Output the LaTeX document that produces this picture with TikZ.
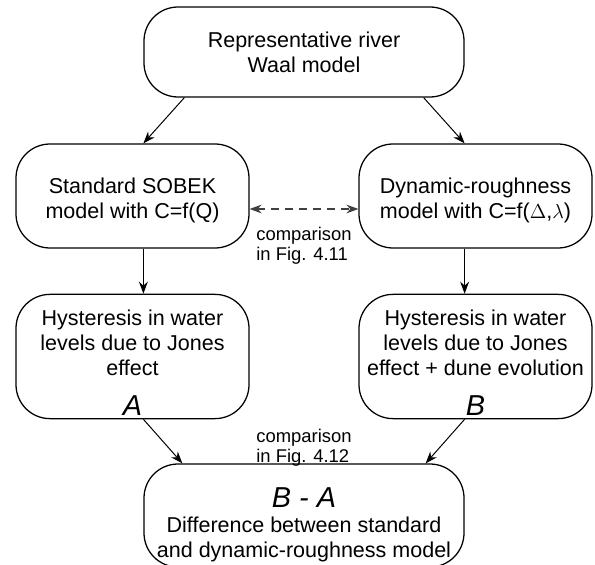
\documentclass[tikz,border=0pt]{standalone}
\usepackage{fontspec}
\setmainfont{Liberation Sans}
\usetikzlibrary{arrows.meta, positioning}
\newcommand{\letterfont}{\fontsize{20.5}{20}\selectfont\itshape}

\begin{document}
\begin{tikzpicture}[
    box/.style={draw, line width=0.9pt, rounded corners=0.85cm, align=center,
        font=\fontsize{15.3}{17.8}\selectfont, inner sep=2pt},
    arr/.style={-{Stealth[length=3mm, width=2.2mm]}, line width=0.7pt},
    cmp/.style={align=left, inner sep=0pt, font=\fontsize{13.1}{14.6}\selectfont}]
                \useasboundingbox (0,0) rectangle (14.875,-14.125);
                \clip (0,0) rectangle (14.875,-14.125);
                % Source model
                \node[box, minimum width=8cm, minimum height=2.25cm] (top) at (7.6,-1.3)
                    {Representative river\\Waal model};
                % Two model variants
                \node[box, minimum width=5.825cm, minimum height=2.6cm] (midL) at (3.3125,-4.9)
                    {\rule{0pt}{17pt}Standard SOBEK\\model with C=f(Q)};
                \node[box, minimum width=5.825cm, minimum height=2.6cm] (midR) at (11.8875,-4.9)
                    {\rule{0pt}{17pt}Dynamic-roughness\\model with C=f($\Delta$,$\lambda$)};
                % Hysteresis results
                \node[box, minimum width=5.825cm, minimum height=3.025cm] (lowL) at (3.3125,-8.9125)
                    {\rule{0pt}{20pt}Hysteresis in water\\levels due to Jones\\effect\\[11pt]{\letterfont A}};
                \node[box, minimum width=5.825cm, minimum height=3.025cm] (lowR) at (11.8875,-8.9125)
                    {\rule{0pt}{20pt}Hysteresis in water\\levels due to Jones\\effect + dune evolution\\[11pt]{\letterfont B}};
                % Difference
                \node[box, minimum width=8cm, minimum height=2.575cm] (bot) at (7.6,-12.8875)
                    {\rule{0pt}{27.4pt}{\letterfont B - A}\\Difference between standard\\and dynamic-roughness model};
                % Comparison labels
                \node[cmp] (cmp1) at (7.6,-6.14) {comparison\\in Fig. 4.11};
                \node[cmp] (cmp2) at (7.6,-11.19) {comparison\\in Fig. 4.12};
                % Arrows
                \draw[arr] ([xshift=1.025cm]top.south west) -- (midL.north -| top.west);
                \draw[arr] ([xshift=-1.025cm]top.south east) -- (midR.north -| top.east);
                \draw[arr] (midL.south -| top.west) -- (lowL.north -| top.west);
                \draw[arr] (midR.south -| top.east) -- (lowR.north -| top.east);
                \draw[arr] (lowL.south -| bot.west) -- ([xshift=0.975cm]bot.north west);
                \draw[arr] (lowR.south -| bot.east) -- ([xshift=-0.975cm]bot.north east);
                \draw[{Stealth[length=3mm, width=2.2mm]}-{Stealth[length=3mm, width=2.2mm]},
                    line width=0.8pt, black!75, dash pattern=on 0.2cm off 0.15cm]
                    ([yshift=-0.325cm]midL.east) -- ([yshift=-0.325cm]midR.west);
            \end{tikzpicture}
\end{document}
